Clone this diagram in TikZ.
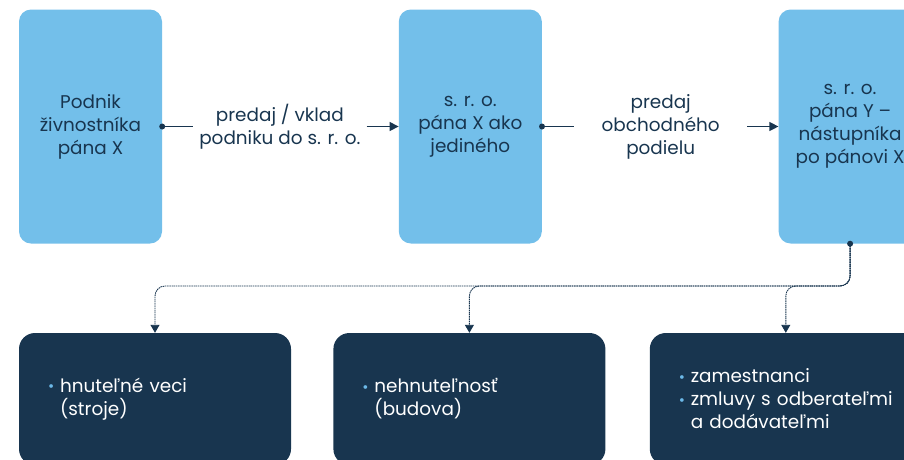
\documentclass[tikz,border=0pt]{standalone}
\usepackage{fontspec}
\setmainfont{Poppins}
\usetikzlibrary{arrows.meta, positioning}
\definecolor{skyblue}{HTML}{73BFEA}
\definecolor{navy}{HTML}{18354F}
\definecolor{dotblue}{HTML}{6CB9E8}
\newcommand{\bul}{\makebox[12pt][l]{\raisebox{0.5pt}{\color{dotblue}\fontsize{15}{15}\selectfont\textbullet}}}
\newcommand{\ind}{\hspace*{12pt}}

\begin{document}
\begin{tikzpicture}[
        x=1pt, y=-1pt,
        >={Triangle[length=9pt,width=9pt]},
        every node/.style={font=\fontsize{18.4}{23}\selectfont},
        lightbox/.style={fill=skyblue, rounded corners=12pt, minimum width=143pt,
            minimum height=234pt, text=navy, align=center, inner sep=0pt},
        flowlabel/.style={minimum width=173pt, text=navy, align=center, inner sep=0pt},
        darkbox/.style={fill=navy, rounded corners=16pt, minimum width=272pt,
            minimum height=132pt, text width=214pt, inner xsep=29pt, text=white, align=left},
        flowline/.style={navy, line width=1.2pt},
        treeline/.style={navy, line width=0.9pt, dash pattern=on 1.5pt off 0.7pt,
            rounded corners=10pt}
    ]
    \useasboundingbox (0,0) rectangle (904,459);
    \clip (0,0) rectangle (904,459);
    \node[lightbox] (owner) at (90.5,126.5) {Podnik\\živnostníka\\pána X};
    \node[flowlabel, right=31pt of owner] (sale) {predaj / vklad\\podniku do s. r. o.};
    \node[lightbox, right=32pt of sale] (sroX) {s. r. o.\\pána X ako\\jediného};
    \node[flowlabel, right=32pt of sroX] (share) {predaj\\obchodného\\podielu};
    \node[lightbox, right=31pt of share] (sroY) {s. r. o.\\pána Y –\\nástupníka\\po pánovi X};
    \node[darkbox] (movables) at (155,399) {\bul hnuteľné veci\\\ind(stroje)};
    \node[darkbox, right=42pt of movables] (realty) {\bul nehnuteľnosť\\\ind(budova)};
    \node[darkbox, right=44pt of realty] (staff) {\bul zamestnanci\\\bul zmluvy s odberateľmi\\\ind a dodávateľmi};
    \draw[flowline] (owner.east) -- (sale.west);
    \draw[flowline, ->] (sale.east) -- (sroX.west);
    \draw[flowline] (sroX.east) -- (share.west);
    \draw[flowline, ->] (share.east) -- (sroY.west);
    \fill[navy] (owner.east) circle (3pt);
    \fill[navy] (sroX.east) circle (3pt);
    \coordinate (bus) at (816,286);
    \foreach \t in {movables,realty,staff}
        \draw[treeline, -{Triangle[length=8pt,width=9pt]}] (sroY.south) |- (bus) -| (\t.north);
    \fill[navy] (sroY.south) circle (3pt);
\end{tikzpicture}
\end{document}
